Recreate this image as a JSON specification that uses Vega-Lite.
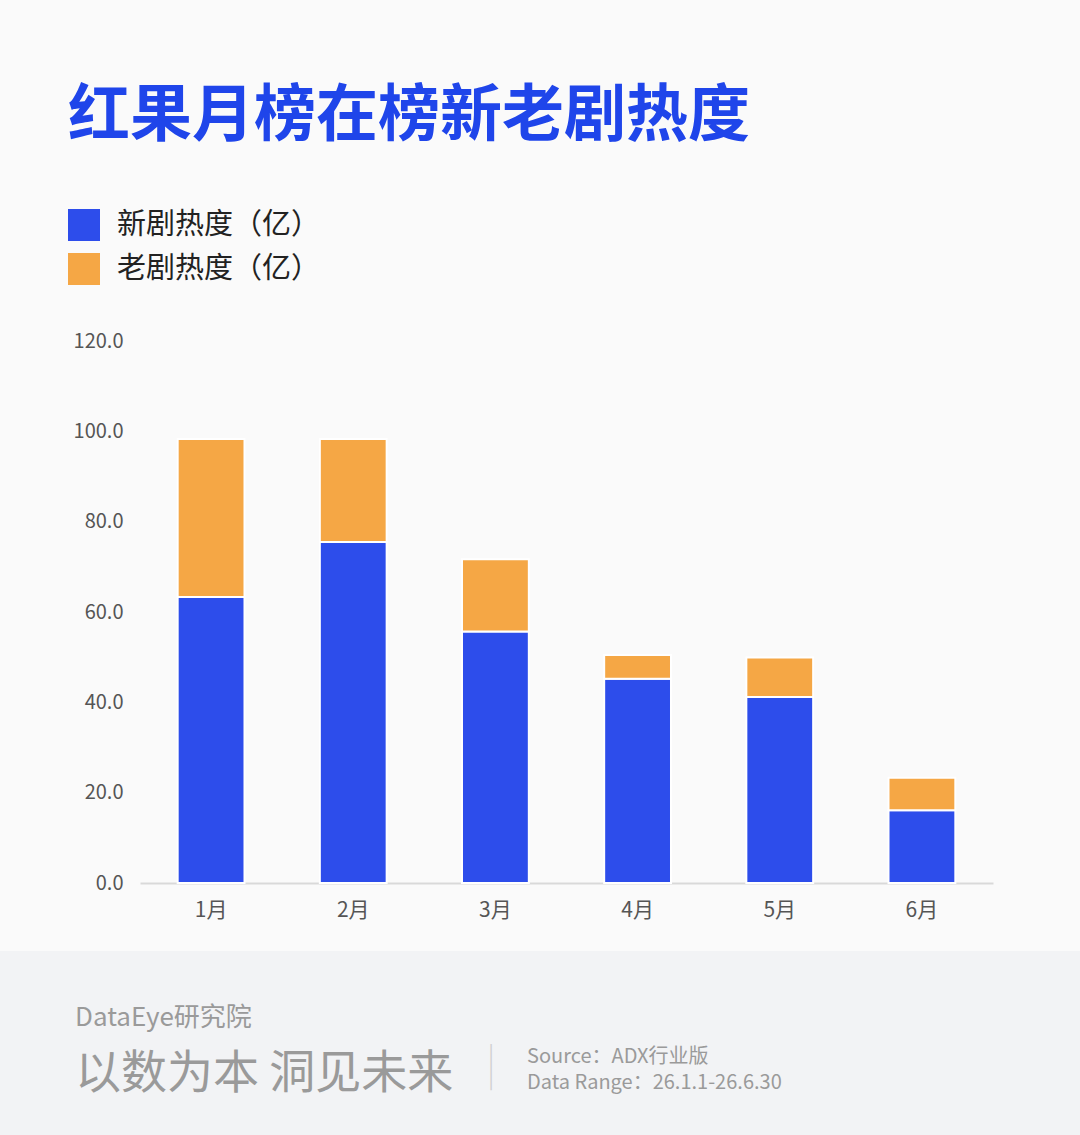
{
  "$schema": "https://vega.github.io/schema/vega-lite/v6.json",
  "background": "#fafafa",
  "padding": {"left": 0, "top": 86, "right": 0, "bottom": 0},
  "config": {
    "font": "Noto Sans CJK SC",
    "view": {"stroke": null}
  },
  "spacing": 31,
  "vconcat": [
    {
      "width": 1080,
      "height": 542,
      "title": {
        "text": "红果月榜在榜新老剧热度",
        "anchor": "start",
        "frame": "bounds",
        "fontSize": 62,
        "fontWeight": "bold",
        "color": "#1f45ea",
        "dx": 68,
        "offset": 182
      },
      "data": {
        "values": [
          {"month": "1月", "type": "新剧热度（亿）", "value": 63.3},
          {"month": "1月", "type": "老剧热度（亿）", "value": 35.0},
          {"month": "2月", "type": "新剧热度（亿）", "value": 75.5},
          {"month": "2月", "type": "老剧热度（亿）", "value": 22.8},
          {"month": "3月", "type": "新剧热度（亿）", "value": 55.7},
          {"month": "3月", "type": "老剧热度（亿）", "value": 16.0},
          {"month": "4月", "type": "新剧热度（亿）", "value": 45.2},
          {"month": "4月", "type": "老剧热度（亿）", "value": 5.3},
          {"month": "5月", "type": "新剧热度（亿）", "value": 41.2},
          {"month": "5月", "type": "老剧热度（亿）", "value": 8.7},
          {"month": "6月", "type": "新剧热度（亿）", "value": 16.1},
          {"month": "6月", "type": "老剧热度（亿）", "value": 7.2}
        ]
      },
      "mark": {"type": "bar", "stroke": "#ffffff", "strokeWidth": 2},
      "encoding": {
        "x": {
          "field": "month",
          "type": "ordinal",
          "sort": ["1月", "2月", "3月", "4月", "5月", "6月"],
          "scale": {"range": [140, 993], "paddingInner": 0.53, "paddingOuter": 0.265},
          "axis": {
            "title": null,
            "labelAngle": 0,
            "labelFontSize": 21,
            "labelColor": "#555555",
            "labelPadding": 16,
            "ticks": false,
            "domainColor": "#d9d9d9",
            "domainWidth": 2
          }
        },
        "y": {
          "field": "value",
          "type": "quantitative",
          "stack": "zero",
          "scale": {"domain": [0, 120]},
          "axis": {
            "title": null,
            "offset": -140,
            "values": [0, 20, 40, 60, 80, 100, 120],
            "format": ".1f",
            "grid": false,
            "domain": false,
            "ticks": false,
            "labelFontSize": 20,
            "labelColor": "#555555",
            "labelPadding": 17
          }
        },
        "color": {
          "field": "type",
          "type": "nominal",
          "sort": ["新剧热度（亿）", "老剧热度（亿）"],
          "scale": {
            "domain": ["新剧热度（亿）", "老剧热度（亿）"],
            "range": ["#2d4deb", "#f5a745"]
          },
          "legend": {
            "title": null,
            "orient": "none",
            "legendX": 68,
            "legendY": -132,
            "direction": "vertical",
            "symbolType": "square",
            "symbolSize": 1024,
            "symbolStrokeWidth": 0,
            "labelFontSize": 29,
            "labelColor": "#222222",
            "labelOffset": 17,
            "labelLimit": 400,
            "rowPadding": 12
          }
        },
        "order": {"field": "type", "sort": "ascending"}
      }
    },
    {
      "width": 1080,
      "height": 185,
      "view": {"fill": "#f2f3f5", "stroke": null},
      "data": {
        "values": [
          {"source": "Source：ADX行业版", "range": "Data Range：26.1.1-26.6.30", "divider": "|"}
        ]
      },
      "title": {
        "text": "DataEye研究院",
        "subtitle": "以数为本 洞见未来",
        "anchor": "start",
        "frame": "group",
        "orient": "top",
        "offset": -146,
        "dx": 75,
        "fontSize": 26,
        "fontWeight": "normal",
        "color": "#9a9a9a",
        "subtitleFontSize": 46,
        "subtitleColor": "#9a9a9a",
        "subtitlePadding": 21
      },
      "layer": [
        {
          "mark": {"type": "text", "align": "left", "baseline": "middle", "dx": -13, "dy": 13, "fontSize": 20, "color": "#9a9a9a"},
          "encoding": {
            "text": {"field": "source"}
          }
        },
        {
          "mark": {"type": "text", "align": "left", "baseline": "middle", "dx": -13, "dy": 39, "fontSize": 20, "color": "#9a9a9a"},
          "encoding": {
            "text": {"field": "range"}
          }
        },
        {
          "mark": {"type": "text", "align": "center", "baseline": "middle", "dx": -49, "dy": 22, "fontSize": 42, "fontWeight": 100, "color": "#d0d0d0"},
          "encoding": {
            "text": {"field": "divider"}
          }
        }
      ]
    }
  ]
}
